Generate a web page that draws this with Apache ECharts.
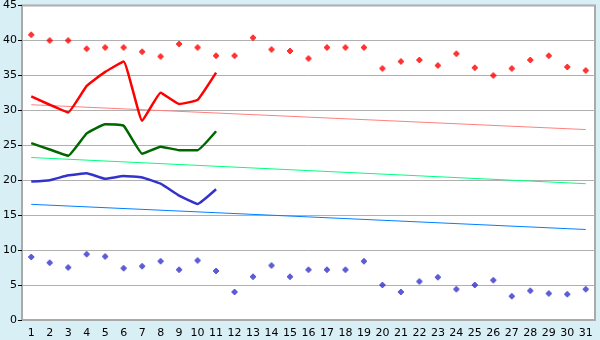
<!DOCTYPE html>
<html><head><meta charset="utf-8">
<script src="https://cdn.jsdelivr.net/npm/echarts@6/dist/echarts.min.js"></script>
<style>html,body{margin:0;padding:0;background:#d9eff6;}#c{width:600px;height:340px;}</style>
</head><body><div id="c"></div>
<script>
var days = ['1','2','3','4','5','6','7','8','9','10','11','12','13','14','15','16','17','18','19','20','21','22','23','24','25','26','27','28','29','30','31'];
var redPoints = [40.8,40.0,40.0,38.8,39.0,39.0,38.4,37.7,39.5,39.0,37.8,37.8,40.4,38.7,38.5,37.4,39.0,39.0,39.0,36.0,37.0,37.2,36.4,38.1,36.1,35.0,36.0,37.2,37.8,36.2,35.7];
var bluePoints = [9.0,8.2,7.5,9.4,9.1,7.4,7.7,8.4,7.2,8.5,7.0,4.0,6.2,7.8,6.2,7.2,7.2,7.2,8.4,5.0,4.0,5.5,6.1,4.4,5.0,5.7,3.4,4.2,3.8,3.7,4.4];
var redLine = [32.0,30.8,29.7,33.5,35.5,37.0,28.5,32.5,30.9,31.5,35.4];
var greenLine = [25.3,24.4,23.5,26.7,28.0,27.8,23.8,24.8,24.3,24.3,27.0];
var blueLine = [19.8,20.0,20.7,21.0,20.2,20.6,20.4,19.5,17.8,16.6,18.7];
var redTrend = [['1',30.8],['31',27.25]];
var greenTrend = [['1',23.25],['31',19.5]];
var blueTrend = [['1',16.55],['31',12.95]];
var yTicks = [0,5,10,15,20,25,30,35,40,45];

var blob = 'path://M2,0H4V1H5V2H6V4H5V5H4V6H2V5H1V4H0V2H1V1H2Z';
var chart = echarts.init(document.getElementById('c'));
function line(name, data, color, w, smooth){
  return {name:name,type:'line',data:data,symbol:'none',smooth:smooth,
    lineStyle:{color:color,width:w},itemStyle:{color:color},animation:false,z:3};
}
chart.setOption({
  backgroundColor:'#d9eff6',
  animation:false,
  grid:{left:20,top:5,right:5,bottom:20,show:true,backgroundColor:'#ffffff',borderColor:'#aaaaaa',borderWidth:2},
  xAxis:{type:'category',data:days,boundaryGap:true,
    axisLine:{lineStyle:{color:'#aaaaaa',width:2}},
    axisTick:{alignWithLabel:true,length:6,lineStyle:{color:'#000'}},
    axisLabel:{color:'#000',fontFamily:'DejaVu Sans',fontSize:11,margin:8,interval:0},
    splitLine:{show:false}},
  yAxis:{type:'value',min:0,max:45,interval:5,
    axisLine:{show:true,lineStyle:{color:'#aaaaaa',width:2}},
    axisTick:{show:true,length:4,lineStyle:{color:'#000'}},
    axisLabel:{color:'#000',fontFamily:'DejaVu Sans',fontSize:11,margin:5,
      formatter:function(v){return yTicks.indexOf(v)>=0?String(v):'';}},
    splitLine:{lineStyle:{color:'#b0b0b0',width:1}}},
  series:[
    line('redTrend',redTrend,'#ff8080',1,false),
    line('greenTrend',greenTrend,'#00ff80',1,false),
    line('blueTrend',blueTrend,'#0080ff',1,false),
    line('red',redLine,'#ff0000',2.5,0.1),
    line('green',greenLine,'#006600',2.5,0.1),
    line('blue',blueLine,'#3333cc',2.5,0.1),
    {name:'redPts',type:'scatter',data:redPoints,symbol:blob,symbolSize:6,itemStyle:{color:'#ff0000'},z:4},
    {name:'bluePts',type:'scatter',data:bluePoints,symbol:blob,symbolSize:6,itemStyle:{color:'#3333cc'},z:4}
  ]
});
</script></body></html>
